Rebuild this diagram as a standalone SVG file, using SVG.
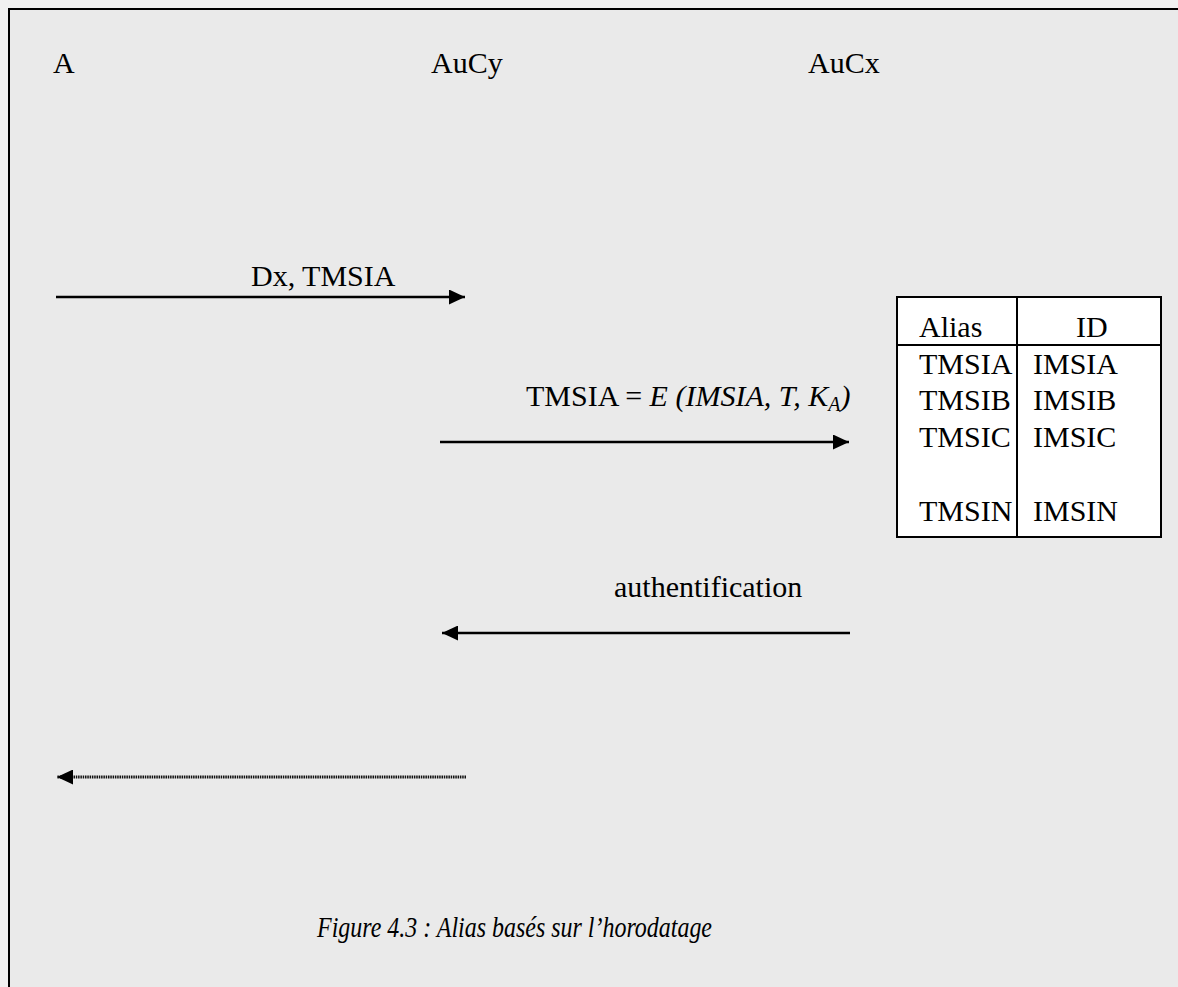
<svg xmlns="http://www.w3.org/2000/svg" width="1178" height="987" viewBox="0 0 1178 987">
  <style>
    .t { font-family: "Liberation Serif", "Times New Roman", serif; font-size: 30px; fill: #000; }
    .i { font-style: italic; }
    .msg { stroke: #000; stroke-width: 2.5; fill: none; }
    .dot { stroke: #111; stroke-width: 3; stroke-dasharray: 1.5 0.8; fill: none; }
    .cell { stroke: #000; stroke-width: 2; fill: #fff; }
  </style>
  <defs>
    <marker id="head" viewBox="0 0 16 15" refX="16" refY="7.5" markerWidth="16" markerHeight="15" markerUnits="userSpaceOnUse" orient="auto">
      <path d="M0,0 L16,7.5 L0,15 Z" fill="#000"/>
    </marker>
  </defs>

  <!-- page and frame -->
  <rect x="0" y="0" width="1178" height="987" fill="#f1f1f1"/>
  <rect x="9" y="9" width="1180" height="990" fill="#eaeaea" stroke="#000" stroke-width="2"/>

  <!-- participants -->
  <g id="node-A"><text class="t" x="53" y="73">A</text></g>
  <g id="node-AuCy"><text class="t" x="431" y="73">AuCy</text></g>
  <g id="node-AuCx"><text class="t" x="808" y="73">AuCx</text></g>

  <!-- alias table held by AuCx -->
  <g id="alias-table">
    <rect class="cell" x="897" y="297" width="264" height="240"/>
    <line x1="1017" y1="297" x2="1017" y2="537" stroke="#000" stroke-width="2"/>
    <line x1="897" y1="345" x2="1161" y2="345" stroke="#000" stroke-width="2"/>
    <text class="t" x="919" y="337">Alias</text>
    <text class="t" x="1076" y="337">ID</text>
    <text class="t" x="919" y="374">TMSIA</text>
    <text class="t" x="1033" y="374">IMSIA</text>
    <text class="t" x="919" y="410">TMSIB</text>
    <text class="t" x="1033" y="410">IMSIB</text>
    <text class="t" x="919" y="447">TMSIC</text>
    <text class="t" x="1033" y="447">IMSIC</text>
    <text class="t" x="919" y="521">TMSIN</text>
    <text class="t" x="1033" y="521">IMSIN</text>
  </g>

  <!-- messages -->
  <g id="connectors">
    <line class="msg" x1="56" y1="297" x2="465" y2="297" marker-end="url(#head)"/>
    <line class="msg" x1="440" y1="442" x2="849" y2="442" marker-end="url(#head)"/>
    <line class="msg" x1="850" y1="633" x2="442" y2="633" marker-end="url(#head)"/>
    <line class="dot" x1="466" y1="777" x2="57" y2="777" marker-end="url(#head)"/>
  </g>

  <g id="labels">
    <text class="t" x="251" y="286">Dx, TMSIA</text>
    <text class="t" x="526" y="406">TMSIA = <tspan class="i">E (IMSIA, T, K</tspan><tspan class="i" font-size="20" dy="5">A</tspan><tspan class="i" dy="-5">)</tspan></text>
    <text class="t" x="614" y="597">authentification</text>
  </g>

  <!-- caption -->
  <g id="caption">
    <text class="t i" x="317" y="937" textLength="395" lengthAdjust="spacingAndGlyphs">Figure 4.3 : Alias basés sur l’horodatage</text>
  </g>
</svg>
